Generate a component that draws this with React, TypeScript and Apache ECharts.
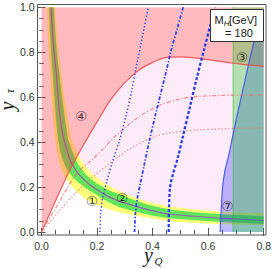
import React, { useEffect, useRef } from "react";
import * as echarts from "echarts";

// ---- data (x = y_Q, y = y_tau) ----
const xRange = [0, 0.8];
const yRange = [0, 1];
const tickStep = 0.2;

const redBoundary = [[0,0],[0.05,0.137],[0.1,0.27],[0.15,0.385],[0.2,0.49],[0.25,0.59],[0.3,0.665],[0.35,0.72],[0.4,0.755],[0.45,0.777],[0.5,0.779],[0.55,0.775],[0.6,0.767],[0.65,0.758],[0.7,0.75],[0.75,0.743],[0.8,0.737]];

const bandCenter = [[0.035,1.0],[0.04,0.88],[0.046,0.79],[0.053,0.712],[0.06,0.6],[0.068,0.5],[0.077,0.43],[0.09,0.37],[0.105,0.315],[0.126,0.27],[0.155,0.23],[0.186,0.2],[0.22,0.172],[0.27,0.142],[0.32,0.122],[0.365,0.105],[0.425,0.088],[0.46,0.08],[0.55,0.07],[0.65,0.061],[0.8,0.052]];

const greenOuter = [[0.044,1.0],[0.05,0.88],[0.057,0.78],[0.064,0.712],[0.074,0.6],[0.085,0.5],[0.095,0.416],[0.11,0.36],[0.13,0.305],[0.16,0.255],[0.2,0.215],[0.24,0.187],[0.27,0.172],[0.32,0.148],[0.38,0.122],[0.46,0.1],[0.55,0.088],[0.65,0.079],[0.8,0.07]];
const greenInner = [[0.027,1.0],[0.031,0.88],[0.035,0.79],[0.04,0.712],[0.046,0.6],[0.052,0.5],[0.059,0.416],[0.067,0.36],[0.078,0.315],[0.091,0.28],[0.108,0.25],[0.13,0.223],[0.16,0.195],[0.2,0.163],[0.24,0.133],[0.28,0.11],[0.34,0.09],[0.4,0.072],[0.46,0.061],[0.55,0.052],[0.65,0.044],[0.8,0.036]];

const yellowOuter = [[0.049,1.0],[0.056,0.88],[0.063,0.79],[0.071,0.712],[0.083,0.6],[0.096,0.5],[0.107,0.416],[0.125,0.36],[0.15,0.305],[0.18,0.262],[0.22,0.222],[0.27,0.187],[0.32,0.16],[0.38,0.135],[0.46,0.113],[0.55,0.1],[0.65,0.09],[0.8,0.083]];
const yellowInner = [[0.019,1.0],[0.022,0.88],[0.026,0.79],[0.031,0.712],[0.036,0.6],[0.042,0.5],[0.048,0.416],[0.055,0.36],[0.063,0.315],[0.075,0.27],[0.09,0.235],[0.11,0.2],[0.135,0.17],[0.165,0.142],[0.2,0.12],[0.24,0.102],[0.28,0.088],[0.34,0.072],[0.4,0.06],[0.46,0.048],[0.55,0.04],[0.65,0.035],[0.8,0.031]];

const blueBoundary = [[0.643,0],[0.645,0.06],[0.648,0.12],[0.652,0.2],[0.66,0.27],[0.67,0.32],[0.677,0.357],[0.689,0.43],[0.71,0.55],[0.73,0.66],[0.75,0.77],[0.77,0.87],[0.79,0.95],[0.8,0.99]];
const stripLeft = 0.69;

const blueDotted = [[0.21,0],[0.213,0.08],[0.22,0.15],[0.234,0.22],[0.255,0.31],[0.281,0.409],[0.305,0.52],[0.325,0.63],[0.342,0.74],[0.362,0.86],[0.384,1.0]];
const blueDashDot = [[0.335,0],[0.338,0.08],[0.345,0.15],[0.355,0.21],[0.37,0.3],[0.389,0.409],[0.41,0.52],[0.43,0.62],[0.45,0.72],[0.467,0.81],[0.49,0.91],[0.51,1.0]];
const blueDashed = [[0.458,0],[0.459,0.1],[0.463,0.2],[0.475,0.265],[0.49,0.327],[0.51,0.43],[0.535,0.56],[0.56,0.69],[0.585,0.81],[0.61,0.93],[0.625,1.0]];

const redDashDot = [[0,0],[0.06,0.125],[0.126,0.26],[0.18,0.32],[0.222,0.37],[0.26,0.42],[0.305,0.468],[0.353,0.515],[0.425,0.564],[0.5,0.592],[0.55,0.602],[0.65,0.608],[0.8,0.61]];
const redDotted = [[0,0],[0.06,0.088],[0.12,0.17],[0.186,0.246],[0.25,0.31],[0.305,0.36],[0.342,0.387],[0.414,0.428],[0.472,0.443],[0.55,0.453],[0.65,0.459],[0.8,0.464]];

const regionNames = ["①", "②", "③", "④", "⑦"];
const regionX = [0.182, 0.291, 0.722, 0.143, 0.67];
const regionY = [0.139, 0.153, 0.78, 0.518, 0.116];

const massValue = 180;

// ---- helpers ----
function polySeries(pts: number[][], fill: string, z: number, stroke?: string, lw?: number) {
  return {
    type: "custom",
    z,
    silent: true,
    clip: true,
    data: [pts[0]],
    renderItem: (_p: any, api: any) => ({
      type: "polygon",
      shape: { points: pts.map((p) => api.coord(p)) },
      style: { fill, stroke: stroke || "none", lineWidth: lw || 0 },
    }),
  };
}

function lineSeries(pts: number[][], color: string, width: number, type: any, z: number, smooth = 0.3) {
  return {
    type: "line",
    z,
    silent: true,
    data: pts,
    showSymbol: false,
    symbol: "none",
    smooth,
    clip: true,
    lineStyle: { color, width, type, cap: "butt" },
  };
}

const axisBase = (labels: boolean, isX: boolean, max: number) => ({
  type: "value",
  min: isX ? xRange[0] : yRange[0],
  max,
  interval: tickStep,
  axisLine: { show: false },
  axisTick: { show: true, inside: true, length: 4, lineStyle: { color: "#555", width: 1 } },
  minorTick: { show: true, splitNumber: 4, length: 2.2, lineStyle: { color: "#555", width: 1 } },
  splitLine: { show: false },
  minorSplitLine: { show: false },
  axisLabel: {
    show: labels,
    color: "#333",
    fontFamily: "Liberation Sans",
    fontSize: 10.5,
    margin: isX ? 5 : 3,
    formatter: (v: number) => v.toFixed(1),
  },
});

const txt = (text: string, x: number, y: number, font: string, align: string, extra: any = {}, lineHeight?: number) => ({
  type: "text",
  z: 61,
  silent: true,
  x,
  y,
  ...extra,
  style: {
    text,
    font,
    fill: "#1a1a1a",
    textAlign: align,
    align,
    textVerticalAlign: "middle",
    verticalAlign: "middle",
    ...(lineHeight ? { lineHeight } : {}),
  },
});

export default function App() {
  const ref = useRef<HTMLDivElement>(null);
  useEffect(() => {
    const chart = echarts.init(ref.current!, null, { renderer: "svg" });

    const lavender = [
      ...redBoundary.filter((p) => p[0] >= 0.1),
      ...bandCenter.filter((p) => p[0] >= 0.1).slice().reverse(),
    ];
    const pink = [...redBoundary, [xRange[1], yRange[1]], [xRange[0], yRange[1]]];
    const yellowBand = [...yellowOuter, ...yellowInner.slice().reverse()];
    const greenBand = [...greenOuter, ...greenInner.slice().reverse()];
    const blueRegion = [...blueBoundary, [xRange[1], yRange[0]]];
    const strip = [[stripLeft, yRange[0]], [xRange[1], yRange[0]], [xRange[1], yRange[1]], [stripLeft, yRange[1]]];

    const option: any = {
      animation: false,
      backgroundColor: "#fff",
      grid: { left: 41.5, right: 9.3, top: 7.3, bottom: 37, containLabel: false },
      xAxis: [
        { ...axisBase(true, true, xRange[1]), position: "bottom", offset: 3 },
        { ...axisBase(false, true, xRange[1]), position: "top", offset: 3.3 },
      ],
      yAxis: [
        { ...axisBase(true, false, yRange[1]), position: "left", offset: 3.8 },
        { ...axisBase(false, false, yRange[1]), position: "right", offset: 1.3 },
      ],
      series: [
        polySeries(lavender, "#FDEBFA", 1),
        polySeries(yellowBand, "#FFFF7A", 2),
        polySeries(greenBand, "#62E55A", 3),
        lineSeries(bandCenter, "#9A5FB8", 1.2, "solid", 4),
        polySeries(pink, "rgba(255,40,60,0.32)", 5),
        polySeries(blueRegion, "rgba(40,40,255,0.3)", 6),
        polySeries(strip, "rgba(40,200,40,0.35)", 7),
        lineSeries([[stripLeft, yRange[0]], [stripLeft, yRange[1]]], "rgba(40,190,40,0.6)", 1, "solid", 8, 0),
        lineSeries(blueBoundary, "#4a5cf0", 1.2, "solid", 9),
        lineSeries(redBoundary, "rgba(240,70,70,0.85)", 1.2, "solid", 9),
        lineSeries(redDashDot, "rgba(245,110,110,0.75)", 1.3, [4, 2, 1.2, 2], 10),
        lineSeries(redDotted, "rgba(245,110,110,0.75)", 1.3, [1.3, 2.2], 10),
        lineSeries(blueDotted, "#3040ee", 1.5, [1.3, 2.2], 11),
        lineSeries(blueDashDot, "#3040ee", 1.8, [3.5, 1.8, 1.3, 1.8], 11),
        lineSeries(blueDashed, "#2a3aee", 2.3, [3, 2], 11),
        {
          type: "scatter",
          z: 12,
          silent: true,
          symbolSize: 0,
          data: regionX.map((x, i) => ({ value: [x, regionY[i]], name: regionNames[i] })),
          label: {
            show: true,
            position: "inside",
            formatter: "{b}",
            fontFamily: "DejaVu Sans",
            fontSize: 13.5,
            color: "#111",
          },
        },
      ],
      graphic: [
        {
          type: "rect",
          z: 50,
          silent: true,
          shape: { x: 37.5, y: 4.5, width: 228.5, height: 230.5 },
          style: { fill: "none", stroke: "#555", lineWidth: 1 },
        },
        {
          type: "rect",
          z: 60,
          silent: true,
          shape: { x: 210.5, y: 9.5, width: 53, height: 32 },
          style: { fill: "#fff", stroke: "#333", lineWidth: 1 },
        },
        txt("M", 214.5, 19.5, "11px 'Liberation Sans'", "left"),
        txt("H", 223.7, 23, "italic 8px 'Liberation Sans'", "left"),
        txt("[GeV]", 229, 19.5, "11px 'Liberation Sans'", "left"),
        txt("= " + massValue, 239, 32.5, "11px 'Liberation Sans'", "center"),
        txt("y", 148.5, 255, "italic 20px 'Liberation Serif'", "center", {}, 11),
        txt("Q", 158.5, 261, "italic 11px 'Liberation Serif'", "center", {}, 9),
        txt("y", 6.5, 106, "italic 20px 'Liberation Serif'", "center", { rotation: Math.PI / 2 }, 11),
        txt("τ", 10, 91, "italic 12px 'Liberation Serif'", "center", { rotation: Math.PI / 2 }, 9),
      ],
    };
    chart.setOption(option);
    return () => chart.dispose();
  }, []);
  return (
    <div
      ref={ref}
      style={{ position: "absolute", left: 0, top: 0, width: 274, height: 269, background: "#fff" }}
    />
  );
}
